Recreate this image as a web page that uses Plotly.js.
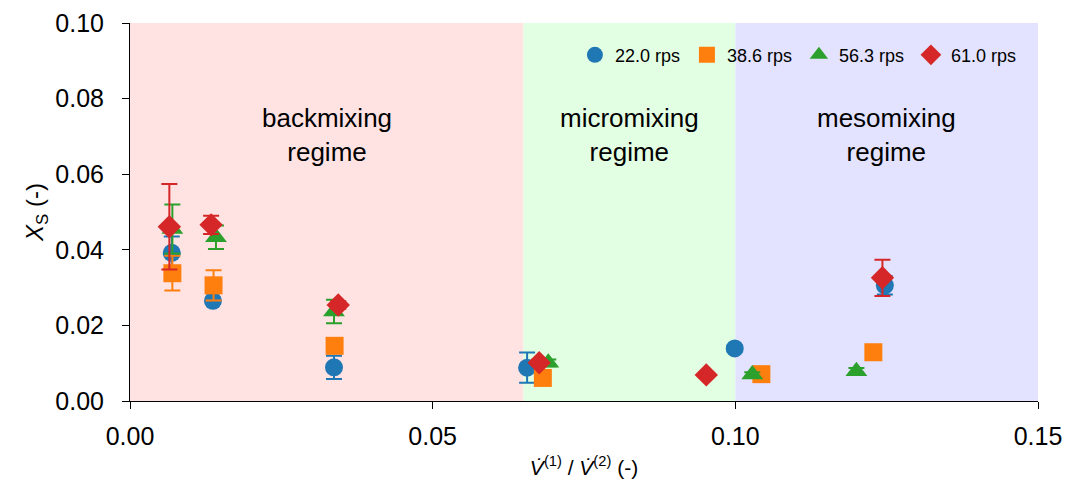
<!DOCTYPE html>
<html>
<head>
<meta charset="utf-8">
<script src="https://cdn.plot.ly/plotly-3.0.1.min.js"></script>
<style>html,body{margin:0;padding:0;background:#fff;}#chart{width:1065px;height:489px;}</style>
</head>
<body>
<div id="chart"></div>
<script>
// Series names
const seriesNames = ["22.0 rps", "38.6 rps", "56.3 rps", "61.0 rps"];

// 22.0 rps
const x22 = [0.0069, 0.0137, 0.0337, 0.0656, 0.0999, 0.1247];
const y22 = [0.0392, 0.0265, 0.0089, 0.0088, 0.0139, 0.0306];
const e22 = [0.0043, 0.0008, 0.0031, 0.0040, 0.0008, 0.0024];

// 38.6 rps
const x38 = [0.0070, 0.0138, 0.0338, 0.0682, 0.1043, 0.1228];
const y38 = [0.0338, 0.0306, 0.0146, 0.0061, 0.0071, 0.0129];
const e38 = [0.0046, 0.0040, 0.0008, 0.0006, 0.0006, 0.0006];

// 56.3 rps
const x56 = [0.0070, 0.0142, 0.0337, 0.0691, 0.1028, 0.1200];
const y56 = [0.0455, 0.0433, 0.0237, 0.0101, 0.0070, 0.0079];
const e56 = [0.0065, 0.0031, 0.0031, 0.0009, 0.0006, 0.0008];

// 61.0 rps
const x61 = [0.0065, 0.0134, 0.0344, 0.0676, 0.0952, 0.1243];
const y61 = [0.0461, 0.0466, 0.0254, 0.0101, 0.0069, 0.0326];
const e61 = [0.0113, 0.0024, 0.0010, 0.0008, 0.0006, 0.0048];

// Regimes
const regimeBounds = [[0, 0.065], [0.065, 0.10], [0.10, 0.15]];
const regimeLabels = ["backmixing<br>regime", "micromixing<br>regime", "mesomixing<br>regime"];
const regimeColors = ["#ffe3e3", "#e3ffe3", "#e3e3ff"];

// Axis ticks
const xTicks = [0, 0.05, 0.10, 0.15];
const xTickText = ["0.00", "0.05", "0.10", "0.15"];
const yTicks = [0, 0.02, 0.04, 0.06, 0.08, 0.10];
const yTickText = ["0.00", "0.02", "0.04", "0.06", "0.08", "0.10"];

const colors = ["#1f77b4", "#ff7f0e", "#2ca02c", "#d62728"];
const symbols = ["circle", "square", "triangle-up", "diamond"];
const sizes = [18, 18, 19, 18];

const xs = [x22, x38, x56, x61], ys = [y22, y38, y56, y61], es = [e22, e38, e56, e61];

const traces = seriesNames.map((n, i) => ({
  type: "scatter", mode: "markers", name: n,
  x: xs[i], y: ys[i],
  error_y: {type: "data", array: es[i], visible: true, color: colors[i], thickness: 2, width: 8},
  marker: {color: colors[i], symbol: symbols[i], size: sizes[i], line: {width: 0}},
  cliponaxis: false
}));

const shapes = regimeBounds.map((b, i) => ({
  type: "rect", xref: "x", yref: "y", x0: b[0], x1: b[1], y0: 0, y1: 0.1,
  fillcolor: regimeColors[i], line: {width: 0}, layer: "below"
}));

const annotations = regimeBounds.map((b, i) => ({
  x: (b[0] + b[1]) / 2, y: 0.0705, xref: "x", yref: "y",
  text: regimeLabels[i], showarrow: false,
  font: {family: "Liberation Sans, Arial, sans-serif", size: 26, color: "#000"}
}));

const layout = {
  width: 1065, height: 489,
  margin: {l: 130, r: 27, t: 23, b: 88},
  paper_bgcolor: "#fff", plot_bgcolor: "#fff",
  font: {family: "Liberation Sans, Arial, sans-serif", size: 25, color: "#000"},
  showlegend: true,
  legend: {orientation: "h", x: 0.49, y: 0.915, xanchor: "left", yanchor: "middle",
           bgcolor: "rgba(0,0,0,0)", font: {size: 18}, itemwidth: 30,
           entrywidth: 67, entrywidthmode: "pixels",
           tracegroupgap: 0, itemsizing: "trace"},
  xaxis: {range: [0, 0.15], tickvals: xTicks, ticktext: xTickText,
          showgrid: false, zeroline: false, showline: true, linecolor: "#000", linewidth: 1,
          ticks: "outside", ticklen: 7, tickcolor: "#000", ticklabelstandoff: 6,
          title: {text: "<i>V̇</i><sup>(1)</sup> / <i>V̇</i><sup>(2)</sup> (-)", font: {size: 21}, standoff: 11}},
  yaxis: {range: [0, 0.1], tickvals: yTicks, ticktext: yTickText,
          showgrid: false, zeroline: false, showline: true, linecolor: "#000", linewidth: 1,
          ticks: "outside", ticklen: 7, tickcolor: "#000", ticklabelstandoff: 13,
          title: {text: "<i>X</i><sub>S</sub> (-)", font: {size: 24}, standoff: 4}},
  shapes: shapes,
  annotations: annotations
};

Plotly.newPlot("chart", traces, layout, {displayModeBar: false, staticPlot: true});
</script>
</body>
</html>
